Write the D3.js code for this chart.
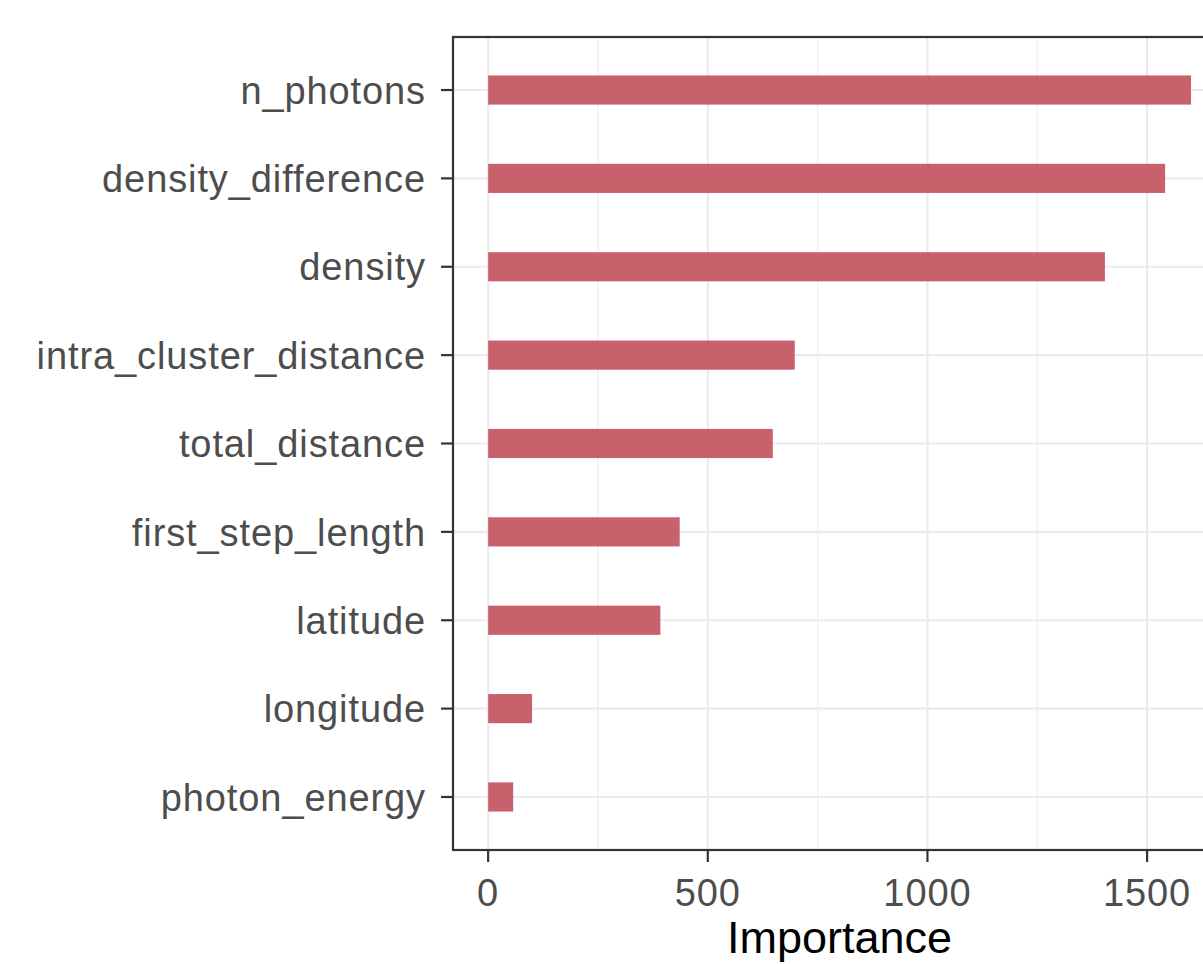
<!DOCTYPE html>
<html>
<head>
<meta charset="utf-8">
<script src="https://cdn.jsdelivr.net/npm/d3@7/dist/d3.min.js"></script>
<style>
  html, body { margin: 0; padding: 0; background: #fff; }
  svg { display: block; }
</style>
</head>
<body>
<svg id="chart" width="1203" height="964"></svg>
<script>
const categories = ["n_photons", "density_difference", "density", "intra_cluster_distance",
  "total_distance", "first_step_length", "latitude", "longitude", "photon_energy"];
const importance = [1600, 1541, 1404, 698, 648, 436, 392, 100, 57];
const xTicks = [0, 500, 1000, 1500];
const xMinor = [250, 750, 1250];
const xTitle = "Importance";

const svg = d3.select("#chart");
const panel = { left: 453, top: 37, bottom: 850 };
const maxV = d3.max(importance);
const pad = maxV * 0.05;
const pxPerUnit = 0.4393;
const x = d3.scaleLinear()
  .domain([-pad, maxV + pad])
  .range([panel.left, panel.left + (maxV + 2 * pad) * pxPerUnit]);
const panelRight = x.range()[1];

const y = d3.scaleBand()
  .domain(categories)
  .range([panel.top, panel.bottom])
  .paddingInner(0)
  .paddingOuter(0.1);
// ggplot: discrete expansion 0.6 units -> band centers at 0.6,1.6...
const unit = (panel.bottom - panel.top) / (categories.length - 1 + 1.2);
const yc = d => panel.top + (categories.indexOf(d) + 0.6) * unit;
const barH = unit * 0.33;

// grid
const g = svg.append("g");
g.selectAll(".minor").data(xMinor).enter().append("line")
  .attr("x1", d => x(d)).attr("x2", d => x(d))
  .attr("y1", panel.top).attr("y2", panel.bottom)
  .attr("stroke", "#efefef").attr("stroke-width", 1.3);
g.selectAll(".major").data(xTicks).enter().append("line")
  .attr("x1", d => x(d)).attr("x2", d => x(d))
  .attr("y1", panel.top).attr("y2", panel.bottom)
  .attr("stroke", "#ebebeb").attr("stroke-width", 2.2);
g.selectAll(".hgrid").data(categories).enter().append("line")
  .attr("x1", panel.left).attr("x2", panelRight)
  .attr("y1", d => yc(d)).attr("y2", d => yc(d))
  .attr("stroke", "#ebebeb").attr("stroke-width", 2.2);

// bars
svg.append("g").selectAll("rect").data(categories).enter().append("rect")
  .attr("x", x(0))
  .attr("y", d => yc(d) - barH / 2)
  .attr("width", (d, i) => x(importance[i]) - x(0))
  .attr("height", barH)
  .attr("fill", "#c9616c");

// panel border
svg.append("rect")
  .attr("x", panel.left).attr("y", panel.top)
  .attr("width", panelRight - panel.left).attr("height", panel.bottom - panel.top)
  .attr("fill", "none").attr("stroke", "#333").attr("stroke-width", 2.2);

// y axis ticks & labels
const ya = svg.append("g");
ya.selectAll("line").data(categories).enter().append("line")
  .attr("x1", panel.left - 12).attr("x2", panel.left)
  .attr("y1", d => yc(d)).attr("y2", d => yc(d))
  .attr("stroke", "#333").attr("stroke-width", 2.2);
ya.selectAll("text").data(categories).enter().append("text")
  .attr("x", panel.left - 27)
  .attr("y", d => yc(d))
  .attr("dy", "0.36em")
  .attr("text-anchor", "end")
  .attr("font-family", "Liberation Sans, Arial, sans-serif")
  .attr("font-size", 38)
  .attr("letter-spacing", 0.9)
  .attr("fill", "#4d4d4d")
  .text(d => d);

// x axis ticks & labels
const xa = svg.append("g");
xa.selectAll("line").data(xTicks).enter().append("line")
  .attr("x1", d => x(d)).attr("x2", d => x(d))
  .attr("y1", panel.bottom).attr("y2", panel.bottom + 12)
  .attr("stroke", "#333").attr("stroke-width", 2.2);
xa.selectAll("text").data(xTicks).enter().append("text")
  .attr("x", d => x(d))
  .attr("y", 906)
  .attr("text-anchor", "middle")
  .attr("font-family", "Liberation Sans, Arial, sans-serif")
  .attr("font-size", 38)
  .attr("letter-spacing", 0.9)
  .attr("fill", "#4d4d4d")
  .text(d => d);

svg.append("text")
  .attr("x", (panel.left + panelRight) / 2)
  .attr("y", 953)
  .attr("text-anchor", "middle")
  .attr("font-family", "Liberation Sans, Arial, sans-serif")
  .attr("font-size", 45)
  .attr("fill", "#000")
  .text(xTitle);
</script>
</body>
</html>
